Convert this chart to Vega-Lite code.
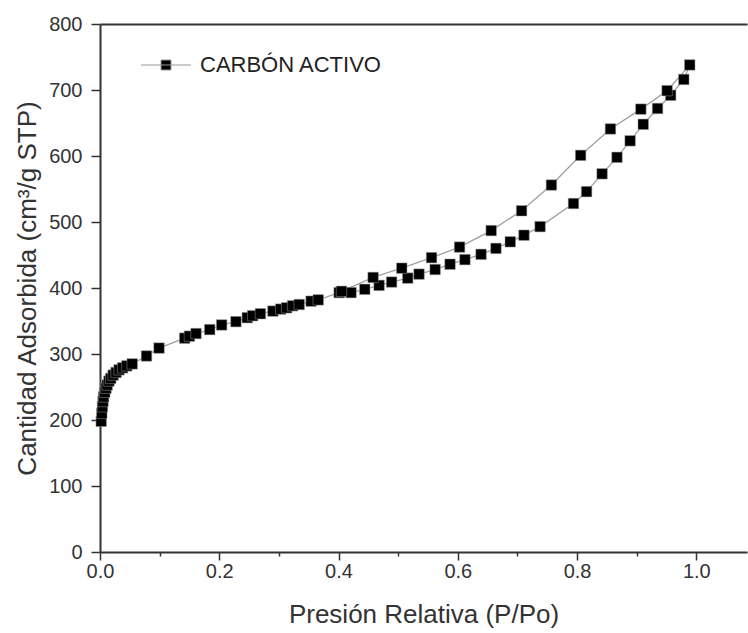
{
  "$schema": "https://vega.github.io/schema/vega-lite/v6.json",
  "autosize": "none",
  "width": 647,
  "height": 528,
  "padding": {"left": 100, "top": 24, "right": 1, "bottom": 81},
  "background": "white",
  "config": {
    "view": {"stroke": null},
    "font": "Liberation Sans",
    "axis": {"domainColor": "#333", "domainWidth": 2, "tickColor": "#333", "tickWidth": 1.5, "labelColor": "#333", "titleColor": "#333", "labelFont": "Liberation Sans", "titleFont": "Liberation Sans", "labelFontSize": 20, "titleFontSize": 26, "titleFontWeight": "normal", "grid": false}
  },
  "data": {"values": [
    {"i":1,"p":0.002,"v":198},{"i":2,"p":0.003,"v":210},{"i":3,"p":0.004,"v":220},{"i":4,"p":0.005,"v":228},
    {"i":5,"p":0.006,"v":235},{"i":6,"p":0.008,"v":242},{"i":7,"p":0.010,"v":248},{"i":8,"p":0.012,"v":253},
    {"i":9,"p":0.015,"v":259},{"i":10,"p":0.018,"v":263},{"i":11,"p":0.022,"v":268},{"i":12,"p":0.027,"v":272},
    {"i":13,"p":0.032,"v":276},{"i":14,"p":0.038,"v":279},{"i":15,"p":0.045,"v":282},{"i":16,"p":0.054,"v":285},
    {"i":17,"p":0.078,"v":297},{"i":18,"p":0.099,"v":309},{"i":19,"p":0.142,"v":324},{"i":20,"p":0.150,"v":327},
    {"i":21,"p":0.161,"v":331},{"i":22,"p":0.184,"v":337},{"i":23,"p":0.204,"v":344},{"i":24,"p":0.228,"v":349},
    {"i":25,"p":0.247,"v":355},{"i":26,"p":0.256,"v":358},{"i":27,"p":0.269,"v":361},{"i":28,"p":0.290,"v":365},
    {"i":29,"p":0.303,"v":368},{"i":30,"p":0.313,"v":370},{"i":31,"p":0.323,"v":373},{"i":32,"p":0.334,"v":375},
    {"i":33,"p":0.354,"v":380},{"i":34,"p":0.366,"v":382},{"i":35,"p":0.401,"v":393},{"i":36,"p":0.421,"v":393},
    {"i":37,"p":0.444,"v":398},{"i":38,"p":0.468,"v":404},{"i":39,"p":0.489,"v":409},{"i":40,"p":0.516,"v":415},
    {"i":41,"p":0.535,"v":421},{"i":42,"p":0.562,"v":428},{"i":43,"p":0.587,"v":436},{"i":44,"p":0.612,"v":443},
    {"i":45,"p":0.639,"v":451},{"i":46,"p":0.664,"v":460},{"i":47,"p":0.688,"v":470},{"i":48,"p":0.711,"v":480},
    {"i":49,"p":0.738,"v":493},{"i":50,"p":0.794,"v":528},{"i":51,"p":0.816,"v":546},{"i":52,"p":0.842,"v":573},
    {"i":53,"p":0.867,"v":598},{"i":54,"p":0.889,"v":623},{"i":55,"p":0.911,"v":648},{"i":56,"p":0.935,"v":672},
    {"i":57,"p":0.957,"v":692},{"i":58,"p":0.979,"v":716},{"i":59,"p":0.989,"v":738},
    {"i":60,"p":0.951,"v":699},{"i":61,"p":0.907,"v":671},{"i":62,"p":0.856,"v":641},{"i":63,"p":0.806,"v":601},
    {"i":64,"p":0.757,"v":556},{"i":65,"p":0.707,"v":517},{"i":66,"p":0.656,"v":487},{"i":67,"p":0.603,"v":462},
    {"i":68,"p":0.556,"v":446},{"i":69,"p":0.506,"v":430},{"i":70,"p":0.458,"v":416},{"i":71,"p":0.405,"v":395}
  ]},
  "layer": [
    {"mark": {"type": "line", "color": "#a0a0a0", "strokeWidth": 1.3},
      "encoding": {
        "x": {"field": "p", "type": "quantitative", "scale": {"domain": [0, 1.085], "nice": false, "zero": false},
          "axis": {"title": "Presión Relativa (P/Po)", "values": [0,0.1,0.2,0.3,0.4,0.5,0.6,0.7,0.8,0.9,1.0],
            "labelExpr": "round(datum.value*10) % 2 === 0 ? format(datum.value, '.1f') : ''",
            "tickSize": {"condition": {"test": "round(datum.value*10) % 2 === 0", "value": 8}, "value": 4},
            "labelPadding": 1, "titlePadding": 20, "labelFlush": false}},
        "y": {"field": "v", "type": "quantitative", "scale": {"domain": [0, 800], "nice": false},
          "axis": {"title": "Cantidad Adsorbida (cm³/g STP)", "values": [0,50,100,150,200,250,300,350,400,450,500,550,600,650,700,750,800],
            "labelExpr": "datum.value % 100 === 0 ? datum.label : ''",
            "tickSize": {"condition": {"test": "datum.value % 100 === 0", "value": 9}, "value": 5},
            "labelPadding": 9, "titlePadding": 8, "labelFlush": false}},
        "order": {"field": "i", "type": "quantitative"}}},
    {"mark": {"type": "point", "shape": "square", "filled": true, "size": 110, "opacity": 1, "stroke": "#999", "strokeWidth": 0.5},
      "encoding": {
        "x": {"field": "p", "type": "quantitative", "axis": {"orient": "top", "title": null, "labels": false, "ticks": false, "domainColor": "#333", "domainWidth": 2}},
        "y": {"field": "v", "type": "quantitative"},
        "color": {"datum": "CARBÓN ACTIVO", "type": "nominal", "scale": {"range": ["black"]},
        "legend": {"title": null, "orient": "none", "legendX": 55, "legendY": 30, "padding": 0,
          "symbolType": "M-5,0H5M-1,-1H1V1H-1Z", "symbolSize": 100, "symbolStrokeColor": "#999", "symbolStrokeWidth": 1,
          "labelOffset": 23, "labelFontSize": 22, "labelLimit": 400, "labelFont": "Liberation Sans", "labelColor": "#222"}}}}
  ],
  "resolve": {"axis": {"x": "independent"}}
}
